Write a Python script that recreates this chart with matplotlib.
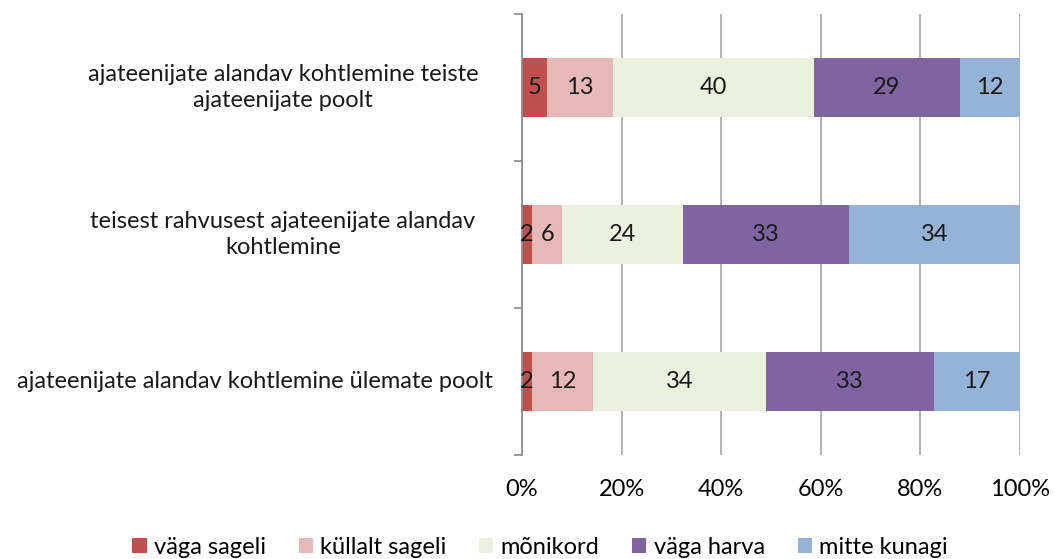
import numpy as np
import matplotlib.pyplot as plt
import matplotlib.transforms as mtransforms

plt.rcParams['font.family'] = ['Lato', 'DejaVu Sans']

categories = [
    "ajateenijate alandav kohtlemine ülemate poolt",
    "teisest rahvusest ajateenijate alandav\nkohtlemine",
    "ajateenijate alandav kohtlemine teiste\najateenijate poolt",
]
series = ["väga sageli", "küllalt sageli", "mõnikord", "väga harva", "mitte kunagi"]
values = np.array([
    [2, 12, 34, 33, 17],
    [2, 6, 24, 33, 34],
    [5, 13, 40, 29, 12],
], dtype=float)
colors = ["#C0504D", "#E6B9B8", "#EBF1DE", "#8064A2", "#95B3D7"]

shares = values / values.sum(axis=1, keepdims=True)

fig = plt.figure(figsize=(10.55, 5.59), dpi=100)
ax = fig.add_axes([522 / 1055, 1 - 455 / 559, 498 / 1055, 441 / 559])

y = np.arange(len(categories))
left = np.zeros(len(categories))
for i, name in enumerate(series):
    ax.barh(y, shares[:, i], left=left, height=0.4, color=colors[i], label=name, zorder=2)
    for j in range(len(categories)):
        ax.text(left[j] + shares[j, i] / 2, y[j], f"{int(values[j, i])}",
                ha="center", va="center", fontsize=17, color="#1a1a1a", zorder=3)
    left += shares[:, i]

ax.set_xlim(0, 1)
ax.set_ylim(-0.5, 2.5)
ticks = np.arange(0, 1.01, 0.2)
ax.set_xticks(ticks)
ax.set_xticklabels([f"{int(round(t * 100))}%" for t in ticks], fontsize=17)
ax.set_yticks([-0.5, 0.5, 1.5, 2.5])
ax.set_yticklabels([])
ax.tick_params(axis="y", length=6, color="#888888", width=1.2)
ax.tick_params(axis="x", length=0, pad=17)
ax.grid(axis="x", color="#A6A6A6", linewidth=1.2, zorder=0)
for s in ["top", "right", "bottom"]:
    ax.spines[s].set_visible(False)
ax.spines["left"].set_color("#888888")
ax.spines["left"].set_linewidth(1.2)

# category labels: wrapped ones centred, single line right aligned
trans = mtransforms.blended_transform_factory(ax.transAxes, ax.transData)
for j, lab in enumerate(categories):
    if "\n" in lab:
        ax.text((283 - 522) / 498, y[j], lab, transform=trans, ha="center", va="center",
                fontsize=17, linespacing=1.35, color="#1a1a1a")
    else:
        ax.text((493 - 522) / 498, y[j], lab, transform=trans, ha="right", va="center",
                fontsize=17, color="#1a1a1a")

fig.legend(*ax.get_legend_handles_labels(), loc="center", bbox_to_anchor=(540 / 1055, 1 - 547 / 559),
           ncol=5, frameon=False, fontsize=17, handlelength=0.6, handleheight=0.6,
           handletextpad=0.3, columnspacing=1.4, borderpad=0)

fig.savefig("out.png", dpi=100)
